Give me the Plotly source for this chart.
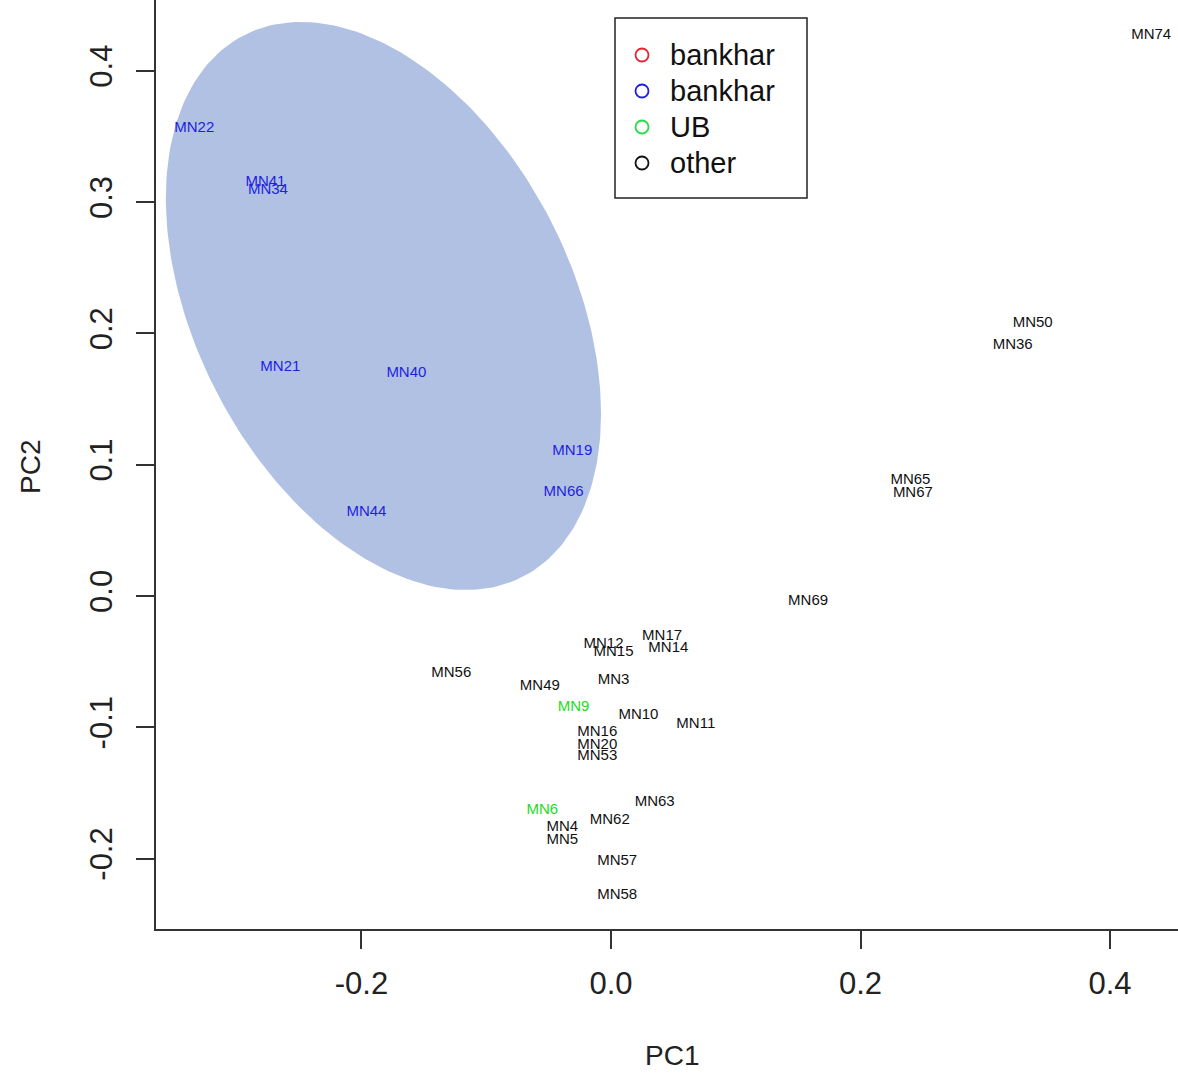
import numpy as np
import plotly.graph_objects as go

# ---------------- data ----------------
blue_labels = ["MN22", "MN41", "MN34", "MN21", "MN40", "MN19", "MN66", "MN44"]
blue_pc1 = [-0.334, -0.277, -0.275, -0.265, -0.164, -0.031, -0.038, -0.196]
blue_pc2 = [0.356, 0.315, 0.309, 0.174, 0.170, 0.110, 0.079, 0.064]

green_labels = ["MN9", "MN6"]
green_pc1 = [-0.030, -0.055]
green_pc2 = [-0.085, -0.163]

other_labels = ["MN74", "MN50", "MN36", "MN65", "MN67", "MN69", "MN17", "MN14",
                "MN12", "MN15", "MN56", "MN49", "MN3", "MN10", "MN11", "MN16",
                "MN20", "MN53", "MN63", "MN62", "MN4", "MN5", "MN57", "MN58"]
other_pc1 = [0.433, 0.338, 0.322, 0.240, 0.242, 0.158, 0.041, 0.046,
             -0.006, 0.002, -0.128, -0.057, 0.002, 0.022, 0.068, -0.011,
             -0.011, -0.011, 0.035, -0.001, -0.039, -0.039, 0.005, 0.005]
other_pc2 = [0.427, 0.208, 0.191, 0.088, 0.078, -0.004, -0.031, -0.040,
             -0.037, -0.043, -0.059, -0.069, -0.064, -0.091, -0.098, -0.104,
             -0.114, -0.122, -0.157, -0.171, -0.176, -0.186, -0.202, -0.228]

legend_names = ["bankhar", "bankhar", "UB", "other"]
legend_colors = ["#E8222E", "#1F1FE0", "#22DD44", "#111111"]

x_tickvals = [-0.2, 0.0, 0.2, 0.4]
x_ticktext = ["-0.2", "0.0", "0.2", "0.4"]
y_tickvals = [-0.2, -0.1, 0.0, 0.1, 0.2, 0.3, 0.4]
y_ticktext = ["-0.2", "-0.1", "0.0", "0.1", "0.2", "0.3", "0.4"]

# ellipse parameters (center, half extents, correlation)
ell_cx, ell_cy = -0.1824, 0.2209
ell_rx, ell_ry, ell_rho = 0.1744, 0.2163, -0.379

FONT = "Liberation Sans, Arial, sans-serif"

W, H = 1178, 1075
L, R, T, B = 156, 0, 0, 146
pw, ph = W - L - R, H - T - B


def px_x(p):
    return (p - L) / pw


def px_y(p):
    return 1 - (p - T) / ph


fig = go.Figure()

t = np.linspace(0, 2 * np.pi, 241)
ex = ell_cx + ell_rx * np.cos(t)
ey = ell_cy + ell_ry * (ell_rho * np.cos(t) + np.sqrt(1 - ell_rho ** 2) * np.sin(t))
fig.add_trace(go.Scatter(x=ex, y=ey, mode="lines", fill="toself",
                         fillcolor="rgb(176,193,228)", line=dict(width=0),
                         hoverinfo="skip", showlegend=False))

for labs, xs, ys, col in [(blue_labels, blue_pc1, blue_pc2, "#1F1FE0"),
                          (green_labels, green_pc1, green_pc2, "#22DD22"),
                          (other_labels, other_pc1, other_pc2, "#111111")]:
    fig.add_trace(go.Scatter(x=xs, y=ys, text=labs, mode="text",
                             textposition="middle center",
                             textfont=dict(family=FONT, size=15, color=col),
                             showlegend=False, cliponaxis=False))

# legend box, symbols and labels
shapes = [dict(type="rect", xref="paper", yref="paper",
               x0=px_x(615), x1=px_x(807), y0=px_y(198), y1=px_y(18),
               line=dict(color="#222222", width=1.5), fillcolor="white", layer="above")]
annotations = []
for i, (name, col) in enumerate(zip(legend_names, legend_colors)):
    cy = 55 + 36 * i
    shapes.append(dict(type="circle", xref="paper", yref="paper",
                       xsizemode="pixel", ysizemode="pixel",
                       xanchor=px_x(642), yanchor=px_y(cy),
                       x0=-6.5, x1=6.5, y0=-6.5, y1=6.5,
                       line=dict(color=col, width=1.8), layer="above"))
    annotations.append(dict(text=name, xref="paper", yref="paper",
                            x=px_x(668), y=px_y(cy), xanchor="left", yanchor="middle",
                            showarrow=False,
                            font=dict(family=FONT, size=29, color="#111111")))

annotations += [
    dict(text="PC1", xref="paper", yref="paper", x=px_x(672), y=px_y(1055),
         showarrow=False, xanchor="center", yanchor="middle",
         font=dict(family=FONT, size=28, color="#222222")),
    dict(text="PC2", xref="paper", yref="paper", x=px_x(30), y=px_y(467),
         showarrow=False, xanchor="center", yanchor="middle", textangle=-90,
         font=dict(family=FONT, size=28, color="#222222")),
]

fig.update_layout(
    width=W, height=H,
    margin=dict(l=L, r=R, t=T, b=B, pad=0),
    plot_bgcolor="white", paper_bgcolor="white",
    font=dict(family=FONT, color="#222222"),
    showlegend=False,
    shapes=shapes,
    annotations=annotations,
    xaxis=dict(range=[-0.3647, 0.4545], tickvals=x_tickvals, ticktext=x_ticktext,
               showgrid=False, zeroline=False, showline=True, linecolor="#333333",
               linewidth=2, ticks="outside", ticklen=18, tickwidth=2,
               tickcolor="#333333", tickfont=dict(family=FONT, size=31, color="#222222"),
               ticklabelstandoff=8),
    yaxis=dict(range=[-0.2536, 0.4539], tickvals=y_tickvals, ticktext=y_ticktext,
               showgrid=False, zeroline=False, showline=True, linecolor="#333333",
               linewidth=2, ticks="outside", ticklen=18, tickwidth=2,
               tickcolor="#333333", tickangle=-90,
               tickfont=dict(family=FONT, size=31, color="#222222"),
               ticklabelstandoff=12),
)

fig.write_html("out.html")
